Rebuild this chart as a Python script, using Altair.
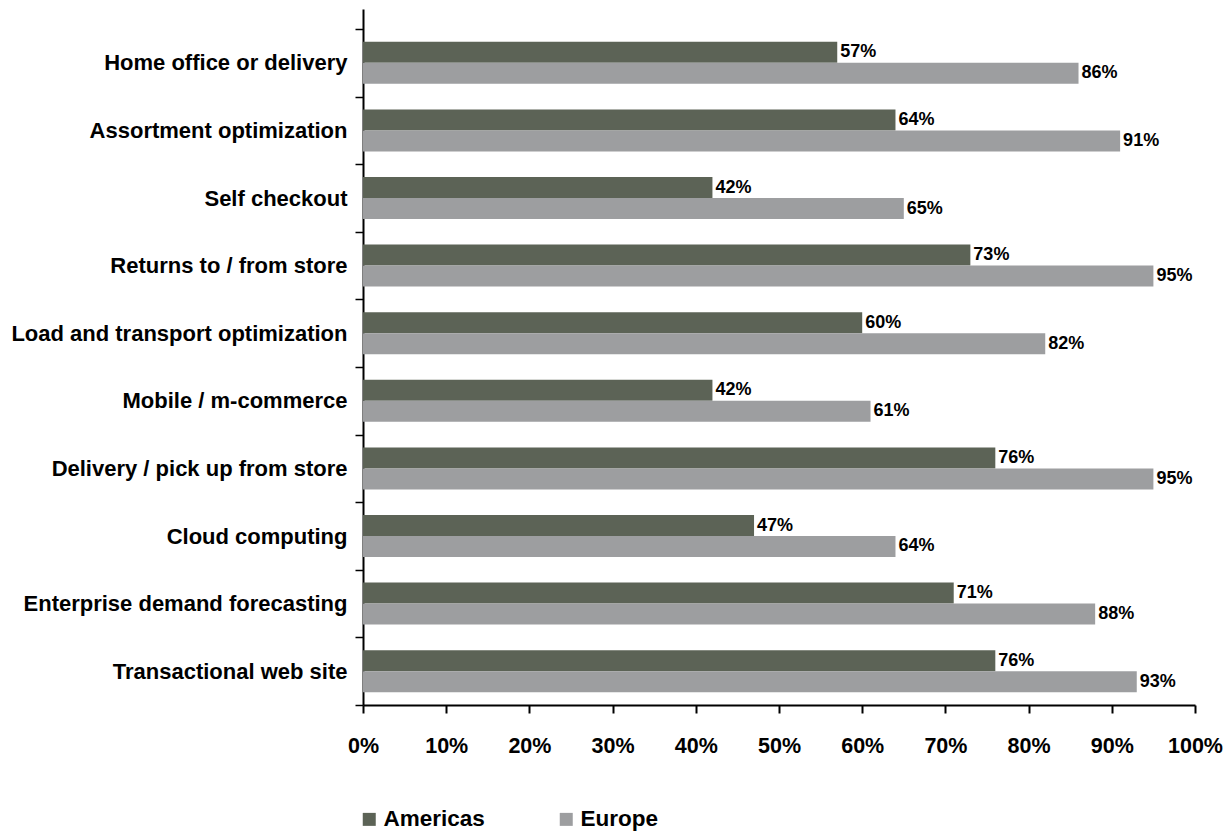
import altair as alt
import pandas as pd

categories = [
    "Home office or delivery",
    "Assortment optimization",
    "Self checkout",
    "Returns to / from store",
    "Load and transport optimization",
    "Mobile / m-commerce",
    "Delivery / pick up from store",
    "Cloud computing",
    "Enterprise demand forecasting",
    "Transactional web site",
]
americas = [57, 64, 42, 73, 60, 42, 76, 47, 71, 76]
europe = [86, 91, 65, 95, 82, 61, 95, 64, 88, 93]
series = ["Americas", "Europe"]
colors = ["#5c6356", "#9d9ea0"]
x_ticks = [0, 10, 20, 30, 40, 50, 60, 70, 80, 90, 100]

rows = []
for c, a, e in zip(categories, americas, europe):
    rows.append({"category": c, "series": "Americas", "value": a / 100})
    rows.append({"category": c, "series": "Europe", "value": e / 100})
df = pd.DataFrame(rows)

FONT = "Liberation Sans"

y = alt.Y(
    "category:N",
    sort=categories,
    scale=alt.Scale(paddingInner=0, paddingOuter=0.148, align=1),
    axis=alt.Axis(
        title=None, tickBand="extent", tickSize=8, labelPadding=8,
        labelFontSize=22, labelFontWeight="bold", labelColor="black",
        labelFont=FONT, labelLimit=500, domainColor="black", domainWidth=2,
        tickColor="black", tickWidth=1.5,
    ),
)
yoff = alt.YOffset("series:N", sort=series,
                   scale=alt.Scale(paddingInner=0, paddingOuter=0.61))
x = alt.X(
    "value:Q",
    scale=alt.Scale(domain=[0, 1], nice=False),
    axis=alt.Axis(
        title=None, format=".0%", values=[v / 100 for v in x_ticks], grid=False,
        tickSize=8, labelPadding=22, labelFontSize=21.5, labelFontWeight="bold",
        labelColor="black", labelFont=FONT, labelFlush=False, labelOverlap=False,
        domainColor="black", domainWidth=2, tickColor="black", tickWidth=2,
    ),
)
color = alt.Color(
    "series:N",
    sort=series,
    scale=alt.Scale(domain=series, range=colors),
    legend=alt.Legend(
        title=None, orient="none", legendX=-5, legendY=799, direction="horizontal",
        symbolType="square", symbolSize=169, symbolStrokeWidth=0,
        labelFontSize=22.5, labelFontWeight="bold", labelFont=FONT, labelColor="black",
        labelOffset=3, columnPadding=70,
    ),
)

bars = alt.Chart(df).mark_bar().encode(x=x, y=y, yOffset=yoff, color=color)
text = alt.Chart(df).mark_text(
    align="left", baseline="middle", dx=3, fontSize=18, fontWeight="bold",
    font=FONT, color="black",
).encode(x=x, y=y, yOffset=yoff, text=alt.Text("value:Q", format=".0%"))

chart = (
    alt.layer(bars, text)
    .properties(width=832, height=696, padding={"left": 2, "top": -10, "right": 0, "bottom": 0})
    .configure_view(stroke=None)
)
chart.save("out.html", embed_options={"renderer": "svg", "actions": False})
